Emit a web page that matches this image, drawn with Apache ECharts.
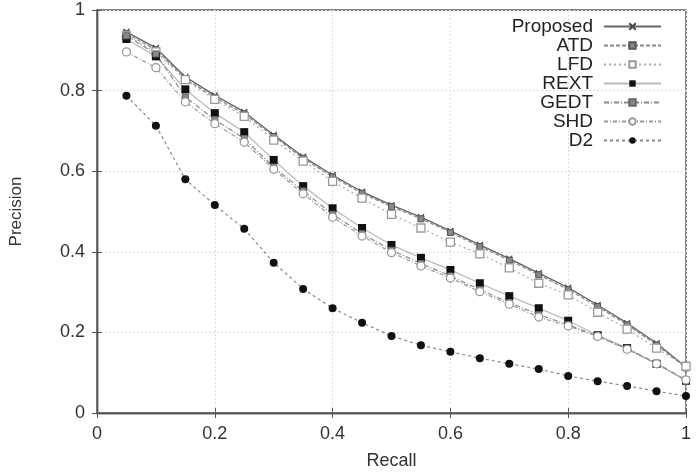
<!DOCTYPE html>
<html><head><meta charset="utf-8">
<script src="https://cdn.jsdelivr.net/npm/echarts@6/dist/echarts.min.js"></script>
<style>html,body{margin:0;padding:0;background:#fff}#c{width:696px;height:476px}</style>
</head><body><div id="c"></div>
<script>
const recall = [0.05,0.10,0.15,0.20,0.25,0.30,0.35,0.40,0.45,0.50,0.55,0.60,0.65,0.70,0.75,0.80,0.85,0.90,0.95,1.00];
const proposed = [0.946,0.906,0.834,0.788,0.747,0.690,0.636,0.590,0.549,0.516,0.486,0.452,0.417,0.383,0.347,0.311,0.268,0.223,0.173,0.114];
const atd      = [0.941,0.901,0.829,0.783,0.742,0.686,0.632,0.586,0.545,0.512,0.482,0.448,0.413,0.379,0.343,0.306,0.264,0.219,0.169,0.112];
const lfd      = [0.936,0.896,0.827,0.778,0.736,0.677,0.625,0.575,0.533,0.493,0.459,0.424,0.395,0.360,0.322,0.293,0.250,0.208,0.161,0.116];
const rext     = [0.928,0.885,0.803,0.744,0.697,0.628,0.563,0.508,0.459,0.417,0.385,0.355,0.322,0.290,0.260,0.229,0.193,0.161,0.122,0.080];
const gedt     = [0.936,0.891,0.784,0.728,0.681,0.610,0.551,0.493,0.445,0.404,0.371,0.340,0.306,0.274,0.244,0.219,0.191,0.159,0.124,0.082];
const shd      = [0.896,0.857,0.772,0.718,0.672,0.605,0.544,0.486,0.439,0.398,0.365,0.335,0.301,0.270,0.238,0.216,0.190,0.158,0.122,0.082];
const d2       = [0.787,0.713,0.580,0.516,0.457,0.373,0.308,0.260,0.224,0.191,0.168,0.152,0.136,0.122,0.109,0.092,0.079,0.067,0.054,0.042];
const seriesNames = ['Proposed','ATD','LFD','REXT','GEDT','SHD','D2'];
const xTicks = [0,0.2,0.4,0.6,0.8,1];

const cross = 'path://M0,0L10,10M10,0L0,10';
const pairs = ys => recall.map((x,i)=>[x, ys[i]]);
const FONT = '"Liberation Sans", Arial, sans-serif';

function mk(name, ys, opt){
  return Object.assign({
    name, type:'line', data: pairs(ys), symbolSize: 7, z: 3
  }, opt);
}

const series = [
  mk(seriesNames[0], proposed, {symbol: cross, symbolSize: 6,
    itemStyle:{color:'#555', borderColor:'#444', borderWidth:1.2},
    lineStyle:{color:'#666', width:1.4, type:'solid'}}),
  mk(seriesNames[1], atd, {symbol:'rect', symbolSize: 6,
    itemStyle:{color:'#888', borderColor:'#555', borderWidth:1},
    lineStyle:{color:'#888', width:1.2, type:[4,2]}}),
  mk(seriesNames[2], lfd, {symbol:'rect', symbolSize: 8,
    itemStyle:{color:'#fff', borderColor:'#999', borderWidth:1.3},
    lineStyle:{color:'#aaa', width:1.2, type:[2,3]}}),
  mk(seriesNames[3], rext, {symbol:'rect', symbolSize: 8,
    itemStyle:{color:'#111', borderColor:'#111', borderWidth:0},
    lineStyle:{color:'#bbb', width:1.3, type:'solid'}}),
  mk(seriesNames[4], gedt, {symbol:'rect', symbolSize: 6,
    itemStyle:{color:'#888', borderColor:'#666', borderWidth:1},
    lineStyle:{color:'#888', width:1.2, type:[5,2,1,2]}}),
  mk(seriesNames[5], shd, {symbol:'circle', symbolSize: 8,
    itemStyle:{color:'#fff', borderColor:'#999', borderWidth:1.3},
    lineStyle:{color:'#999', width:1.2, type:[4,2,1,2]}}),
  mk(seriesNames[6], d2, {symbol:'circle', symbolSize: 8,
    itemStyle:{color:'#111', borderColor:'#111', borderWidth:0},
    lineStyle:{color:'#888', width:1.2, type:[3,3]}})
];

const axisLine = {show:true, lineStyle:{color:'#555', width:1.4}};
const tick = {show:true, inside:true, length:5, lineStyle:{color:'#555'}};
const chart = echarts.init(document.getElementById('c'), null, {renderer:'canvas'});
chart.setOption({
  animation:false,
  backgroundColor:'#fff',
  textStyle:{fontFamily: FONT},
  grid:{left:95, right:10, top:10, bottom:63, show:true, borderColor:'#555', borderWidth:1.4},
  legend:{
    orient:'vertical', right:29, top:12, align:'right',
    itemWidth:57, itemHeight:8, itemGap:0,
    textStyle:{fontFamily:FONT, fontSize:19, lineHeight:19, color:'#222', width:120, align:'right', padding:[0,6,0,0]},
    data: seriesNames
  },
  xAxis:[{
    type:'value', min:0, max:1, interval:0.2,
    name:'Recall', nameLocation:'middle', nameGap:39,
    nameTextStyle:{fontSize:18, color:'#333', fontFamily:FONT},
    axisLine, axisTick: tick,
    axisLabel:{fontSize:18, color:'#333', margin:12, fontFamily:FONT,
      formatter: v => xTicks.includes(+v.toFixed(1)) ? String(+v.toFixed(1)) : ''},
    splitLine:{show:true, lineStyle:{color:'#ddd', type:[2,2], width:1}}
  },{
    type:'value', position:'top', min:0, max:1, interval:0.2,
    axisLine, axisTick: tick,
    axisLabel:{show:false}, splitLine:{show:false}
  }],
  yAxis:[{
    type:'value', min:0, max:1, interval:0.2,
    name:'Precision', nameLocation:'middle', nameGap:72,
    nameTextStyle:{fontSize:17, color:'#333', fontFamily:FONT},
    axisLine, axisTick: tick,
    axisLabel:{fontSize:18, color:'#333', margin:12, fontFamily:FONT,
      formatter: v => String(+v.toFixed(1))},
    splitLine:{show:true, lineStyle:{color:'#ddd', type:[2,2], width:1}}
  },{
    type:'value', position:'right', min:0, max:1, interval:0.2,
    axisLine, axisTick: tick,
    axisLabel:{show:false}, splitLine:{show:false}
  }],
  series
});
</script></body></html>
